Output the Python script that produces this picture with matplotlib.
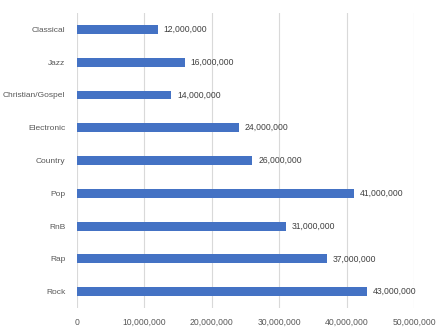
import matplotlib.pyplot as plt
from matplotlib.ticker import FuncFormatter

genres = ["Classical", "Jazz", "Christian/Gospel", "Electronic", "Country",
          "Pop", "RnB", "Rap", "Rock"]
listeners = [12000000, 16000000, 14000000, 24000000, 26000000,
             41000000, 31000000, 37000000, 43000000]
x_ticks = [0, 10000000, 20000000, 30000000, 40000000, 50000000]

plt.rcParams["font.family"] = ["Liberation Sans", "DejaVu Sans"]
text_color = "#595959"

fig = plt.figure(figsize=(4.48, 3.32), dpi=100)
ax = fig.add_axes([0.171, 0.072, 0.754, 0.889])

pos = list(range(len(genres)))
ax.barh(pos, listeners, height=0.27, color="#4472C4", zorder=3)
ax.set_ylim(len(genres) - 0.5, -0.5)
ax.set_xlim(0, 50000000)
ax.set_yticks(pos)
ax.set_yticklabels(genres)
ax.set_xticks(x_ticks)
ax.xaxis.set_major_formatter(FuncFormatter(lambda v, p: f"{int(v):,}"))

for p, v in zip(pos, listeners):
    ax.text(v + 900000, p, f"{v:,}", va="center", ha="left",
            fontsize=6.2, color="#404040")

ax.grid(axis="x", color="#d9d9d9", linewidth=0.8, zorder=0)
for s in ax.spines.values():
    s.set_visible(False)
ax.tick_params(axis="both", length=0, labelsize=6.2, labelcolor=text_color)
ax.tick_params(axis="y", labelsize=6.0, pad=8)
ax.tick_params(axis="x", pad=7)

fig.savefig("out.png", dpi=100)
